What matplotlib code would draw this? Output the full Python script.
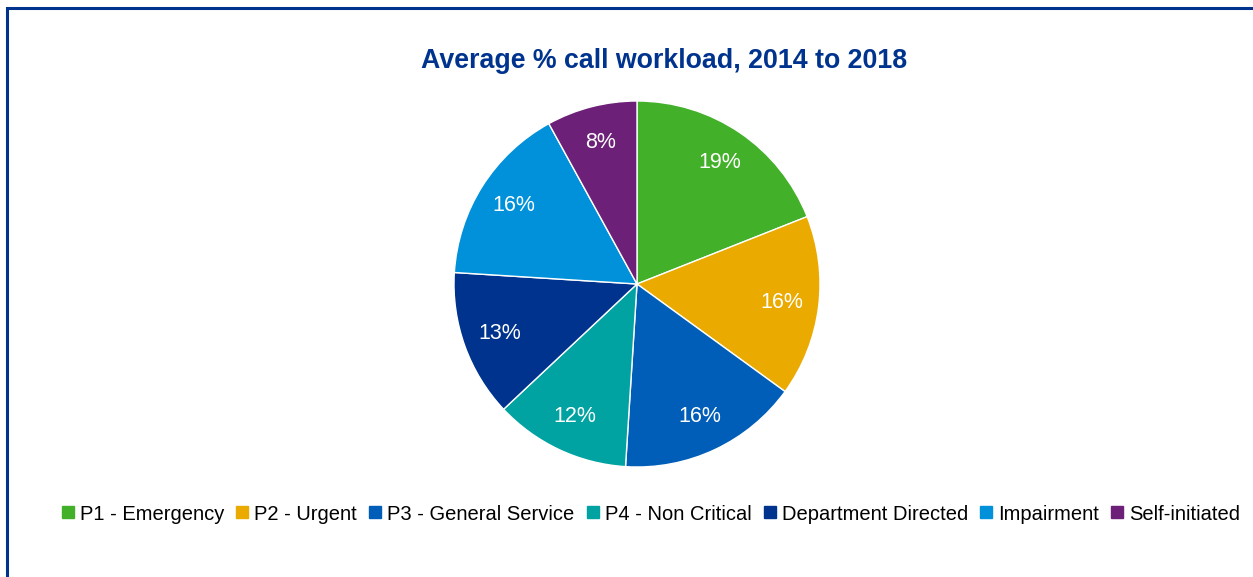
import matplotlib.pyplot as plt
from matplotlib.lines import Line2D
from matplotlib.patches import Rectangle
from matplotlib import font_manager

categories = ['P1 - Emergency', 'P2 - Urgent', 'P3 - General Service', 'P4 - Non Critical',
              'Department Directed', 'Impairment', 'Self-initiated']
shares = [19, 16, 16, 12, 13, 16, 8]
colours = ['#43B02A', '#EAAA00', '#005EB8', '#00A3A1', '#00338D', '#0091DA', '#6D2077']

names = {f.name for f in font_manager.fontManager.ttflist}
font = 'Liberation Sans Narrow' if 'Liberation Sans Narrow' in names else 'Liberation Sans'
plt.rcParams['font.family'] = [font, 'DejaVu Sans']

fig = plt.figure(figsize=(12.53, 5.77), dpi=100)

# frame, only top and left edges are visible in the crop
fig.patches.append(Rectangle((6.5 / 1253, -0.1), 1.2, (577 - 8) / 577 + 0.1, transform=fig.transFigure,
                             fill=False, edgecolor='#00338D', linewidth=2.2))

pax = fig.add_axes([(637 - 183) / 1253, (577 - 284 - 183) / 577, 366 / 1253, 366 / 577])
wedges, texts, autotexts = pax.pie(shares, colors=colours, startangle=90, counterclock=False,
                                   autopct='%d%%', pctdistance=0.8,
                                   wedgeprops=dict(edgecolor='white', linewidth=1))
for t in autotexts:
    t.set_color('white')
    t.set_fontsize(15.5)
pax.set_xlim(-1, 1)
pax.set_ylim(-1, 1)
pax.set_aspect('equal')

fig.text(664 / 1253, 1 - 61 / 577, 'Average % call workload, 2014 to 2018', ha='center', va='center',
         fontsize=19.3, fontweight='bold', color='#00338D', family='Liberation Sans')

handles = [Line2D([], [], marker='s', linestyle='none', markersize=8, color=c) for c in colours]
fig.legend(handles, categories, loc='center', bbox_to_anchor=(651 / 1253, 1 - 514 / 577), ncol=7,
           frameon=False, fontsize=14.5, handlelength=0.6, handletextpad=0.3, columnspacing=0.6,
           borderpad=0)

fig.savefig('out.png', dpi=100)
